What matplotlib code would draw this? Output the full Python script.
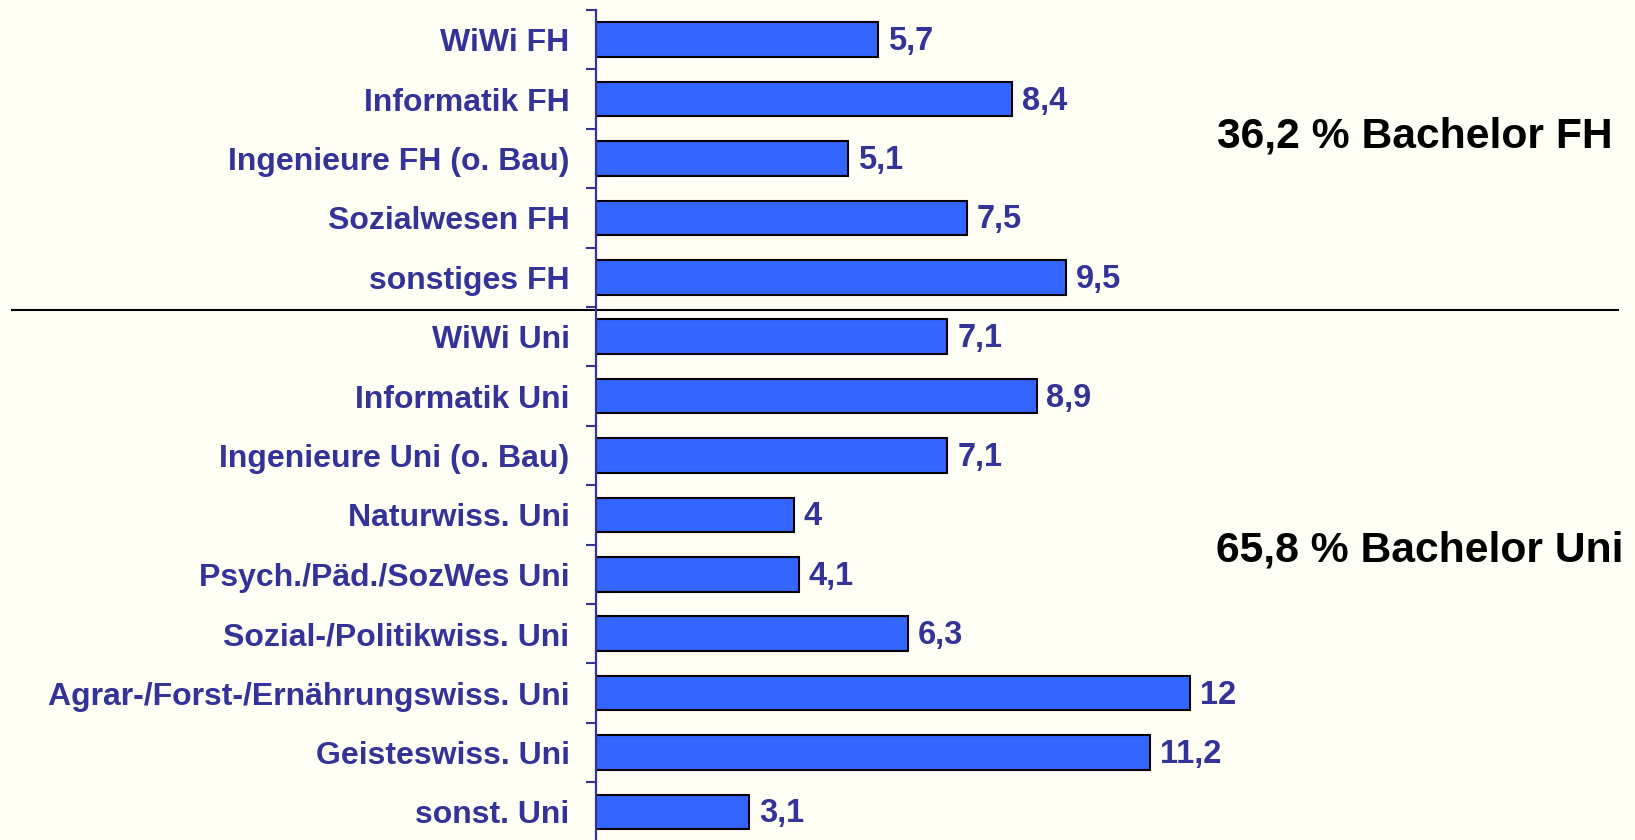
import matplotlib.pyplot as plt
import matplotlib.transforms as mtransforms
from matplotlib.ticker import FixedLocator

categories = ['WiWi FH', 'Informatik FH', 'Ingenieure FH (o. Bau)', 'Sozialwesen FH',
              'sonstiges FH', 'WiWi Uni', 'Informatik Uni', 'Ingenieure Uni (o. Bau)',
              'Naturwiss. Uni', 'Psych./Päd./SozWes Uni', 'Sozial-/Politikwiss. Uni',
              'Agrar-/Forst-/Ernährungswiss. Uni', 'Geisteswiss. Uni', 'sonst. Uni']
values = [5.7, 8.4, 5.1, 7.5, 9.5, 7.1, 8.9, 7.1, 4, 4.1, 6.3, 12, 11.2, 3.1]
group_labels = ['36,2 % Bachelor FH', '65,8 % Bachelor Uni']

BG = '#FFFFF5'
BAR = '#3366FF'
TXT = '#333399'

plt.rcParams['font.family'] = ['Liberation Sans', 'DejaVu Sans']

fig = plt.figure(figsize=(16.35, 8.4), dpi=100, facecolor=BG)
ax = fig.add_axes([596 / 1635, 1 - 841.6 / 840, 1 - 596 / 1635, 831.6 / 840])
ax.set_facecolor(BG)

y = list(range(len(categories)))
ax.barh(y, values, height=0.58, color=BAR, edgecolor='black', linewidth=1.5)

for yi, v in zip(y, values):
    ax.annotate(f'{v:g}'.replace('.', ','), (v, yi), xytext=(7, -1.5),
                textcoords='offset points', va='center', ha='left',
                fontsize=23.5, fontweight='bold', color=TXT)

ax.set_xlim(0, 1039 / 49.5)
ax.set_ylim(len(categories) - 0.5, -0.5)

ax.set_yticks(y)
ax.set_yticklabels(categories, fontsize=23, fontweight='bold', color=TXT)
ax.tick_params(axis='y', which='major', length=0, pad=19)
ax.yaxis.set_minor_locator(FixedLocator([i - 0.5 for i in range(len(categories) + 1)]))
ax.tick_params(axis='y', which='minor', length=7.5, width=1.5, color=TXT)
ax.set_xticks([])

for s in ['top', 'right', 'bottom']:
    ax.spines[s].set_visible(False)
ax.spines['left'].set_color(TXT)
ax.spines['left'].set_linewidth(1.6)

# separator line between FH and Uni
trans = mtransforms.blended_transform_factory(fig.transFigure, ax.transData)
ax.plot([12 / 1635, 1618 / 1635], [4.55, 4.55], color='black', lw=1.5,
        transform=trans, clip_on=False)

fig.text(1613 / 1635, 1 - 136 / 840, group_labels[0], ha='right', va='center',
         fontsize=30.7, fontweight='bold', color='black')
fig.text(1623 / 1635, 1 - 550 / 840, group_labels[1], ha='right', va='center',
         fontsize=30.7, fontweight='bold', color='black')

fig.savefig('out.png', dpi=100, facecolor=BG)
